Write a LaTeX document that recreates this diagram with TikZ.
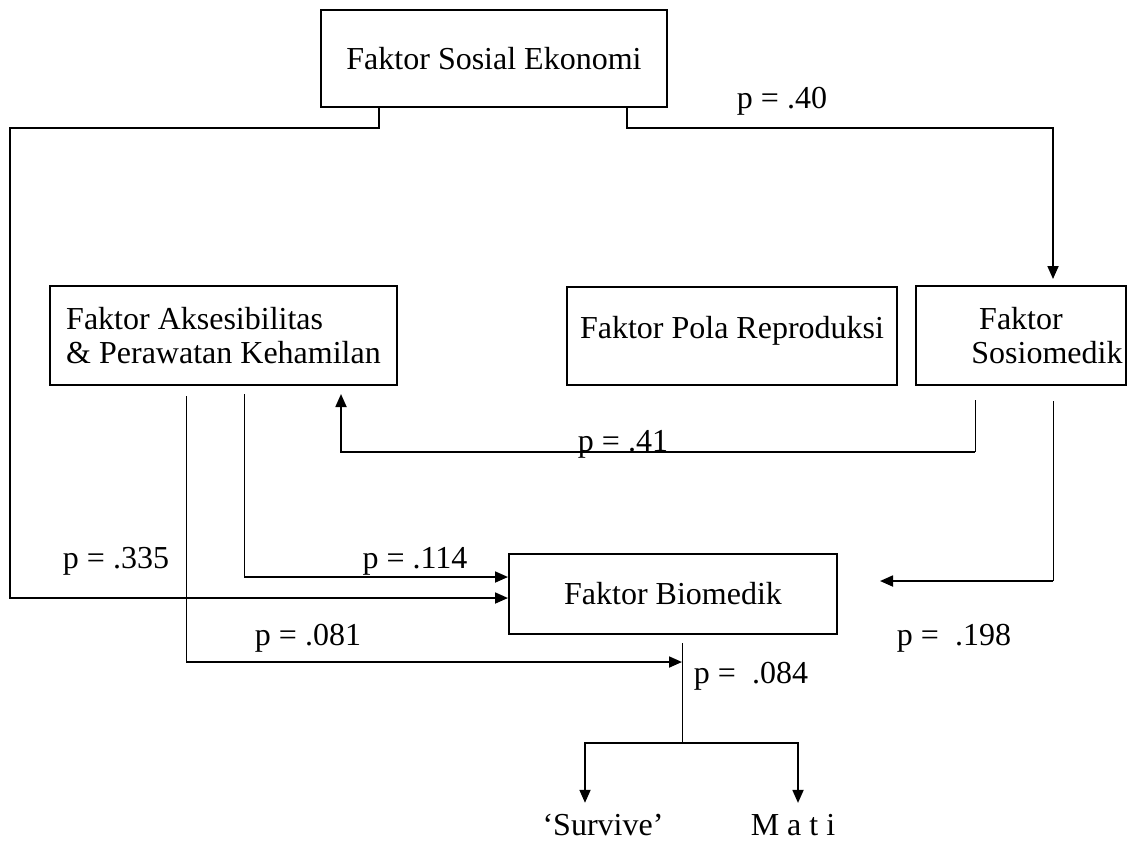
\documentclass[tikz,border=0pt]{standalone}
\usepackage{fontspec}
\setmainfont{Liberation Serif}
\usetikzlibrary{arrows.meta, positioning, calc}

\begin{document}
\begin{tikzpicture}[
    x=0.5pt, y=-0.5pt,
    >={Triangle[length=6.5pt, width=5.5pt]}, line width=0.9pt,
    font=\fontsize{16pt}{17pt}\selectfont,
    % ---- styles ----
    box/.style = {draw, rectangle, line width=1pt, inner sep=0pt},
    plabel/.style = {anchor=base, inner sep=0pt},
    outcome/.style = {anchor=base, inner xsep=0pt, inner ysep=5pt},
    thinline/.style = {line width=0.5pt}
]
\useasboundingbox (0,0) rectangle (1128,843);

% ===================== boxes =====================
\node[box, minimum width=173pt, minimum height=48.5pt] (sosek) at (494,58.5) {Faktor Sosial Ekonomi};

\node[box, minimum width=173.5pt, minimum height=49.5pt, align=left] (akses) at (223.5,335.5)
      {Faktor Aksesibilitas\\\& Perawatan Kehamilan};
\node[box, minimum width=165pt, minimum height=49pt, text height=11pt, text depth=9pt] (pola) at (732,336)
      {Faktor Pola Reproduksi};
\node[box, minimum width=105pt, minimum height=49.5pt, align=center] (sosio) at (1021,335.5)
      {Faktor\\\hspace*{26pt}Sosiomedik};

\node[box, minimum width=164pt, minimum height=40pt] (biomedik) at (673,594) {Faktor Biomedik};

% outcomes
\node[outcome] (survive) at (603,835) {`Survive'};
\node[outcome] (mati) at (793,835) {M a t i};

% ===================== labels =====================
\node[plabel] (p40)  at (782,108) {p = .40};
\node[plabel] (p41)  at (623,451) {p = .41};
\node[plabel] (p335) at (116,568) {p = .335};
\node[plabel] (p114) at (415,568) {p = .114};
\node[plabel] (p081) at (308,645) {p = .081};
\node[plabel] (p198) at (954,645) {p =\ \ .198};
\node[plabel] (p084) at (751,683) {p =\ \ .084};

% ===================== connectors =====================
\coordinate (r41)   at (975,452);
\coordinate (r198)  at (1053,581);
\coordinate (a114)  at (244,577);
\coordinate (a081)  at (186,662);
\coordinate (split) at (682,743);

% Sosial Ekonomi -> Biomedik / Sosiomedik
\draw[->] (sosek.south -| 379,0) |- (10,128) |- ([yshift=-2pt]biomedik.west);
\draw[->, shorten >=3pt] (sosek.south -| 627,0) |- (1053,128) -- ([xshift=16pt]sosio.north);

% Sosiomedik -> Aksesibilitas / Biomedik
\draw[thinline, shorten <=7pt] ([xshift=-23pt]sosio.south) -- (r41);
\draw[->, shorten >=4pt] (r41) -| ([xshift=58.75pt]akses.south);
\draw[thinline, shorten <=7.5pt] ([xshift=16pt]sosio.south) -- (r198);
\draw[->, shorten >=21pt] (r198) -- (biomedik.east |- r198);

% Aksesibilitas -> Biomedik
\draw[thinline, shorten <=4pt] ([xshift=10.25pt]akses.south) -- (a114);
\draw[->] (a114) -- ([yshift=8.5pt]biomedik.west);
\draw[thinline, shorten <=5pt] ([xshift=-18.75pt]akses.south) -- (a081);
\draw[->] (a081) -- (split |- a081);

% Biomedik -> outcomes
\draw[thinline, shorten <=4pt] ([xshift=4.5pt]biomedik.south) -- (split);
\draw[->] (split) -| ([xshift=-9pt]survive.north);
\draw[->] (split) -| ([xshift=2.5pt]mati.north);

\end{tikzpicture}
\end{document}
